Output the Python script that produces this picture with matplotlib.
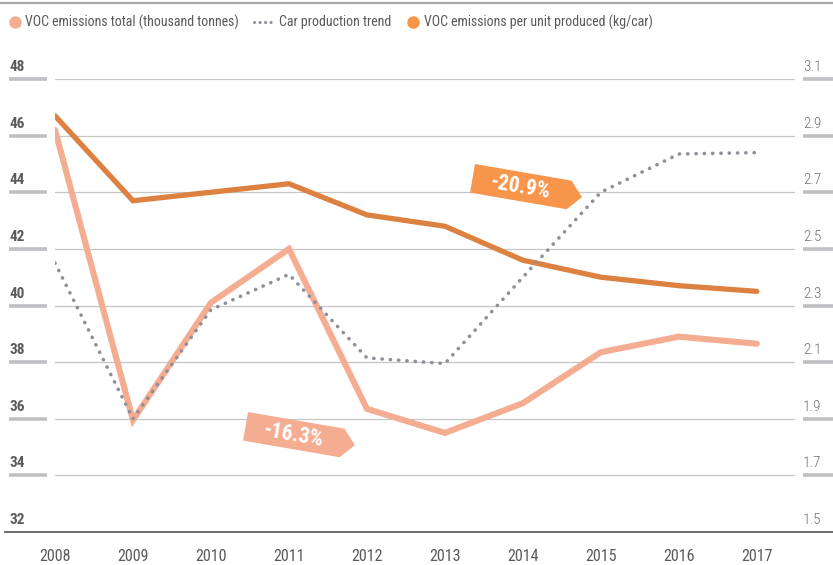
import matplotlib
matplotlib.use("Agg")
import matplotlib.pyplot as plt
from matplotlib import font_manager
from matplotlib.lines import Line2D
from matplotlib.patches import Polygon
from matplotlib.transforms import Affine2D, blended_transform_factory, offset_copy

# ---- data ----
years = [2008, 2009, 2010, 2011, 2012, 2013, 2014, 2015, 2016, 2017]
voc_total = [46.2, 35.95, 40.1, 42.0, 36.35, 35.5, 36.55, 38.35, 38.9, 38.65]      # thousand tonnes
car_trend = [41.5, 36.0, 39.85, 41.1, 38.15, 37.95, 41.0, 44.0, 45.35, 45.4]       # index, left scale
voc_per_car = [2.97, 2.67, 2.70, 2.73, 2.62, 2.58, 2.46, 2.40, 2.37, 2.35]         # kg/car
left_ticks = [32, 34, 36, 38, 40, 42, 44, 46, 48]
right_ticks = [1.5, 1.7, 1.9, 2.1, 2.3, 2.5, 2.7, 2.9, 3.1]
badge_total = "-16.3%"
badge_unit = "-20.9%"

# ---- fonts ----
available = {f.name for f in font_manager.fontManager.ttflist}
family = next((f for f in ["Roboto Condensed", "Liberation Sans Narrow", "Roboto"] if f in available), "DejaVu Sans")
plt.rcParams["font.family"] = [family, "DejaVu Sans"]

SALMON = "#F5AD92"
ORANGE = "#DD8140"
BRIGHT = "#F7954A"
DOTS = "#8F8F9A"
GRID = "#C6C6C6"
TICKBAR = "#C0C0C4"
TXT = "#5A5A5A"

W, H = 833, 565
fig = plt.figure(figsize=(W / 100, H / 100), dpi=100)
ax = fig.add_axes([55 / W, 1 - 532 / H, 740 / W, (532 - 79) / H])
ax2 = ax.twinx()

ax.set_xlim(years[0], years[-1] + 0.49)
ax.set_ylim(left_ticks[0], left_ticks[-1])
ax2.set_ylim(right_ticks[0], right_ticks[-1])

for a in (ax, ax2):
    for s in a.spines.values():
        s.set_visible(False)
    a.tick_params(left=False, right=False, labelleft=False, labelright=False, length=0)
ax.patch.set_visible(False)

# horizontal grid
for v in left_ticks[1:]:
    ax.axhline(v, color=GRID, lw=0.9, zorder=0)

# series
ax.plot(years, voc_total, color=SALMON, lw=4.4, solid_joinstyle="miter", solid_capstyle="round", zorder=2)
ax2.plot(years, voc_per_car, color=ORANGE, lw=3.8, solid_joinstyle="miter", solid_capstyle="round", zorder=3)
ax2.plot(years, [v / 10 - 1.7 for v in car_trend], color=DOTS, lw=2.6,
         linestyle=(0, (0.05, 2.25)), dash_capstyle="round", zorder=4)

# x tick labels
ax.set_xticks(years)
ax.set_xticklabels([str(y) for y in years], fontsize=11.5, color=TXT)
ax.tick_params(axis="x", bottom=False, labelbottom=True, pad=12)

# bottom baseline across the figure
base_tr = blended_transform_factory(fig.transFigure, ax.transData)
fig.add_artist(Line2D([5 / W, 1], [left_ticks[0]] * 2, transform=base_tr, color="#606060", lw=1.3))

# left scale: bars + bold labels
for v in left_ticks:
    if v != left_ticks[0]:
        fig.add_artist(Line2D([9 / W, 47 / W], [v, v], transform=base_tr, color=TICKBAR, lw=2.6,
                              solid_capstyle="butt"))
    fig.text(9 / W, v, str(v), transform=offset_copy(base_tr, fig=fig, y=5, units="dots"),
             ha="left", va="bottom", fontsize=11, fontweight="bold", color=TXT)

# right scale: bars + light labels
rtr = blended_transform_factory(fig.transFigure, ax2.transData)
for v in right_ticks:
    if v != right_ticks[0]:
        fig.add_artist(Line2D([803 / W, 1], [v, v], transform=rtr, color=TICKBAR, lw=2.6,
                              solid_capstyle="butt"))
    fig.text(803 / W, v, f"{v:.1f}", transform=offset_copy(rtr, fig=fig, y=5, units="dots"),
             ha="left", va="bottom", fontsize=11, fontweight="light", color="#707070")

# top rule
fig.add_artist(Line2D([0, 1], [1 - 3 / H] * 2, transform=fig.transFigure, color="#A8A8A8", lw=1.6))

# legend
ly = 1 - 22 / H
fig.add_artist(Line2D([15 / W], [ly], transform=fig.transFigure, marker="o", ms=8,
                      color=SALMON, lw=0))
fig.text(25 / W, ly, "VOC emissions total (thousand tonnes)", fontsize=10, color=TXT, va="center")
fig.add_artist(Line2D([254 / W, 272 / W], [ly, ly], transform=fig.transFigure, color=DOTS, lw=2.2,
                      linestyle=(0, (0.05, 1.75)), dash_capstyle="round"))
fig.text(279 / W, ly, "Car production trend", fontsize=10, color=TXT, va="center")
fig.add_artist(Line2D([413 / W], [ly], transform=fig.transFigure, marker="o", ms=8,
                      color=BRIGHT, lw=0))
fig.text(424 / W, ly, "VOC emissions per unit produced (kg/car)", fontsize=10, color=TXT, va="center")


def badge(px, py, label, color, angle=-9.8):
    """Tag-shaped label; (px, py) is its top-left corner in pixels from the top-left."""
    tr = Affine2D().scale(1, -1).rotate_deg(angle).translate(px, H - py)
    shape = [(0, 0), (98, 0), (111, 14.5), (98, 29), (0, 29)]
    fig.add_artist(Polygon(shape, closed=True, transform=tr, facecolor=color, edgecolor="none", zorder=5))
    fig.text(49, 15.5, label, transform=tr, rotation=angle, rotation_mode="anchor",
             ha="center", va="center", fontsize=15.5, fontweight="bold", color="white", zorder=6)


badge(475, 164, badge_unit, BRIGHT)
badge(248, 412, badge_total, SALMON)

fig.savefig("out.png", dpi=100)
